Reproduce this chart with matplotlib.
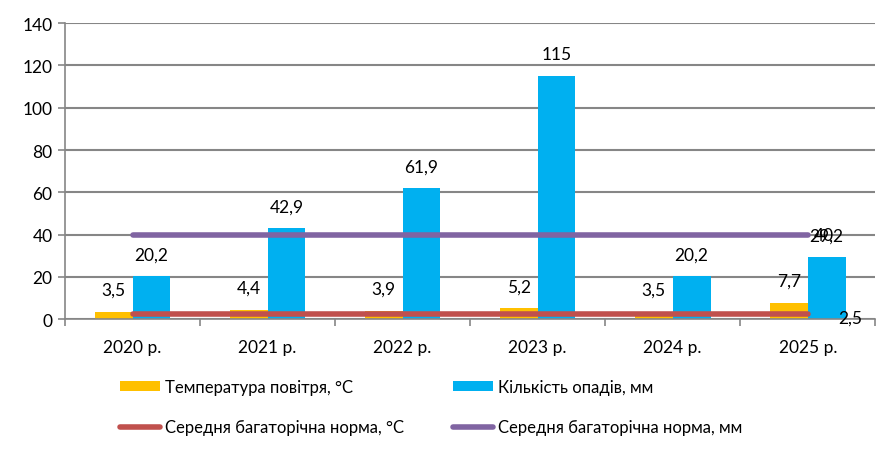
import matplotlib.pyplot as plt
import numpy as np

plt.rcParams['font.family'] = ['Lato', 'DejaVu Sans']

years = ['2020 р.', '2021 р.', '2022 р.', '2023 р.', '2024 р.', '2025 р.']
temp = [3.5, 4.4, 3.9, 5.2, 3.5, 7.7]
precip = [20.2, 42.9, 61.9, 115, 20.2, 29.2]
norm_temp = [2.5, 2.5, 2.5, 2.5, 2.5, 2.5]
norm_precip = [40, 40, 40, 40, 40, 40]


def fmt(v):
    return f'{v:g}'.replace('.', ',')


x = np.arange(len(years))
w = 0.28

fig = plt.figure(figsize=(8.95, 4.56), dpi=100)
ax = fig.add_axes([0.0726, 0.298, 0.9054, 0.649])

b1 = ax.bar(x - w / 2, temp, w, color='#FFC000', label='Температура повітря, °С', zorder=2)
b2 = ax.bar(x + w / 2, precip, w, color='#00B0F0', label='Кількість опадів, мм', zorder=2)
l1, = ax.plot(x, norm_temp, color='#C0504D', lw=4, solid_capstyle='round',
              label='Середня багаторічна норма, °С', zorder=3)
l2, = ax.plot(x, norm_precip, color='#8064A2', lw=4, solid_capstyle='round',
              label='Середня багаторічна норма, мм', zorder=3)

for xi, v in zip(x, temp):
    ax.annotate(fmt(v), (xi - w / 2, v), xytext=(0, 10), textcoords='offset points',
                ha='center', va='bottom', fontsize=12.5)
for xi, v in zip(x, precip):
    ax.annotate(fmt(v), (xi + w / 2, v), xytext=(0, 10), textcoords='offset points',
                ha='center', va='bottom', fontsize=12.5)
ax.annotate(fmt(norm_precip[-1]), (x[-1], norm_precip[-1]), xytext=(4, 0),
            textcoords='offset points', ha='left', va='center', fontsize=12.5)
ax.annotate(fmt(norm_temp[-1]), (x[-1], norm_temp[-1]), xytext=(22, -3),
            textcoords='offset points', ha='left', va='center', fontsize=12.5)

ax.set_xlim(-0.5, len(years) - 0.5)
ax.set_ylim(0, 140)
ax.set_yticks(range(0, 141, 20))
ax.yaxis.grid(True, color='#868686', lw=1.5, zorder=0)
ax.set_axisbelow(True)

ax.set_xticks(np.arange(-0.5, len(years), 1))
ax.set_xticklabels([])
ax.set_xticks(x, minor=True)
ax.set_xticklabels(years, minor=True)
ax.tick_params(axis='x', which='major', length=5, color='#868686', width=1.2)
ax.tick_params(axis='x', which='minor', length=0, pad=14, labelsize=12.5)
ax.tick_params(axis='y', length=5, color='#868686', width=1.2, labelsize=12.5, pad=4)

for side in ['top', 'right']:
    ax.spines[side].set_visible(False)
for side in ['left', 'bottom']:
    ax.spines[side].set_color('#868686')
    ax.spines[side].set_linewidth(1.2)

fig.legend([b1, l1, b2, l2],
           [b1.get_label(), l1.get_label(), b2.get_label(), l2.get_label()],
           ncol=2, loc='upper left', bbox_to_anchor=(0.134, 0.166), frameon=False,
           borderpad=0, borderaxespad=0,
           fontsize=12, handlelength=2.4, handleheight=0.55, columnspacing=2.95,
           labelspacing=1.45, handletextpad=0.3)

fig.savefig('out.png', dpi=100)
